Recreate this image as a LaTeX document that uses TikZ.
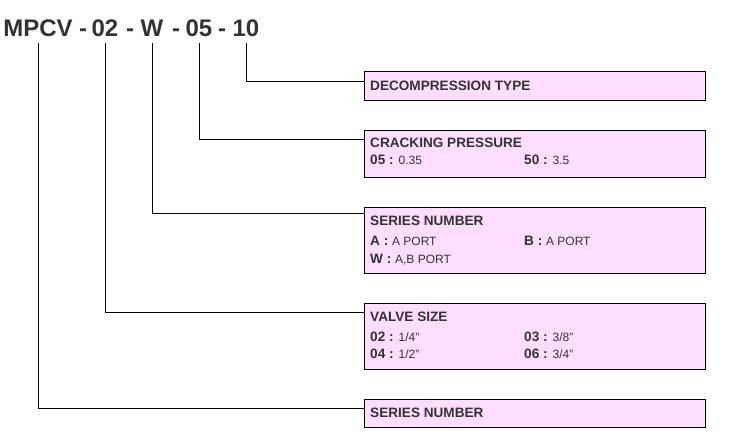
\documentclass[tikz,border=0pt]{standalone}
\usepackage{fontspec}
\setmainfont{Liberation Sans}
\definecolor{boxPink}{RGB}{255,222,255}
\definecolor{textGray}{RGB}{51,51,51}
\newcommand{\codeval}[2]{{\bfseries #1 :} {\mdseries\fontsize{12}{14}\selectfont #2}}

\begin{document}
\begin{tikzpicture}
[x=1pt,y=-1pt,
  codeDecorate/.style={font=\fontsize{24}{28}\selectfont\bfseries,text=textGray,anchor=base,inner xsep=0pt,inner ysep=7pt,text depth=0pt},%
  boxDecorate/.style={draw,line width=0.9pt,fill=boxPink,anchor=north west,minimum width=341pt,inner sep=0pt},%
  textDecorate/.style={font=\fontsize{13.6}{15}\selectfont\bfseries,text=textGray,anchor=west,inner sep=0pt,text height=9.7pt,text depth=0pt},%
  lineDecorate/.style={-,line width=0.9pt}]
\useasboundingbox (0,0) rectangle (752,447);
%% code parts
\foreach \nodename/\x/\txt in {
  series/38/MPCV, dashA/83/-, size/105/02, dashB/130/-, port/152/W,
  dashC/176/-, crack/199/05, dashD/222/-, decomp/246/10}
{
  \node (c\nodename) at (\x,36) [codeDecorate] {\txt};
}
%% boxes
\foreach \nodename/\y/\h in {
  decomp/71/29, crack/130/47, port/207/66, size/303/66, series/399/28}
{
  \node (b\nodename) at (364,\y) [boxDecorate,minimum height=\h pt] {};
}
%% box texts
\foreach \x/\y/\txt [count=\i] in {
  370/86/DECOMPRESSION TYPE,
  370/143/CRACKING PRESSURE, 370/160/{\codeval{05}{0.35}}, 524/160/{\codeval{50}{3.5}},
  370/221/SERIES NUMBER, 370/241/{\codeval{A}{A PORT}}, 524/241/{\codeval{B}{A PORT}},
  370/259/{\codeval{W}{A,B PORT}},
  370/317/VALVE SIZE, 370/337/{\codeval{02}{1/4"}}, 524/337/{\codeval{03}{3/8"}},
  370/354/{\codeval{04}{1/2"}}, 524/354/{\codeval{06}{3/4"}},
  370/413/SERIES NUMBER}
{
  \node (t\i) at (\x,\y) [textDecorate] {\txt};
}
%% connectors
\foreach \nodename/\dy in {decomp/10, crack/9, port/6, size/9, series/9}
{
  \draw[lineDecorate] (c\nodename.south) |- ([yshift=-\dy pt]b\nodename.north west);
}
\end{tikzpicture}
\end{document}
